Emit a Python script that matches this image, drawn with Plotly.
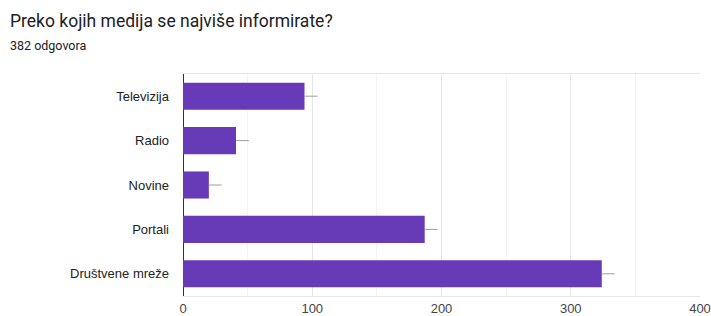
import plotly.graph_objects as go

categories = ["Televizija", "Radio", "Novine", "Portali", "Društvene mreže"]
values = [94, 41, 20, 187, 324]
x_ticks = [0, 100, 200, 300, 400]
title_text = "Preko kojih medija se najviše informirate?"
subtitle_text = "382 odgovora"

W, H = 711, 316
L, R, T, B = 183, 11, 74, 20
LABEL_FONT = "Arial, 'Liberation Sans', sans-serif"

fig = go.Figure()
fig.add_trace(go.Bar(
    y=categories, x=values, orientation="h",
    marker=dict(color="#673ab7", line=dict(width=0)),
    error_x=dict(type="constant", value=10, valueminus=0, symmetric=False,
                 width=0, thickness=1, color="#9e9e9e"),
    hoverinfo="x+y",
))

fig.update_layout(
    width=W, height=H,
    margin=dict(l=L, r=R, t=T, b=B, pad=0, autoexpand=False),
    paper_bgcolor="white", plot_bgcolor="white",
    font=dict(family=LABEL_FONT, color="#222222", size=13),
    bargap=0.39,
    showlegend=False,
    title=dict(text=title_text, x=10 / W, xanchor="left", xref="container",
               y=1 - 21 / H, yanchor="middle", yref="container",
               font=dict(size=17.5, color="#202124", family="Roboto, Arial, sans-serif")),
    annotations=[dict(text=subtitle_text, xref="paper", yref="paper",
                      x=(9 - L) / (W - L - R), y=1 + (T - 45) / (H - T - B),
                      xanchor="left", yanchor="middle", showarrow=False, borderpad=0,
                      font=dict(size=12.5, color="#202124", family="Roboto, Arial, sans-serif"))],
)

fig.update_xaxes(
    range=[0, 400], tickvals=x_ticks, ticktext=[str(v) for v in x_ticks],
    showgrid=True, gridcolor="#e6e6e6", gridwidth=1,
    minor=dict(dtick=50, tick0=0, showgrid=True, gridcolor="#f4f4f4", gridwidth=1),
    zeroline=True, zerolinecolor="#333333", zerolinewidth=1,
    showline=True, linecolor="#e6e6e6", mirror=True, linewidth=1,
    ticks="", tickfont=dict(size=13, color="#444444", family=LABEL_FONT),
    ticklabelstandoff=0, fixedrange=True, automargin=False,
)
fig.update_yaxes(
    categoryorder="array", categoryarray=categories, autorange="reversed",
    showgrid=False, zeroline=False, showline=False,
    ticks="", ticklabelstandoff=13,
    tickfont=dict(size=13, color="#222222", family=LABEL_FONT),
    fixedrange=True, automargin=False,
)

fig.write_html("out.html", config={"displayModeBar": False},
               post_script="document.body.style.margin='0';document.body.style.overflow='hidden';")
